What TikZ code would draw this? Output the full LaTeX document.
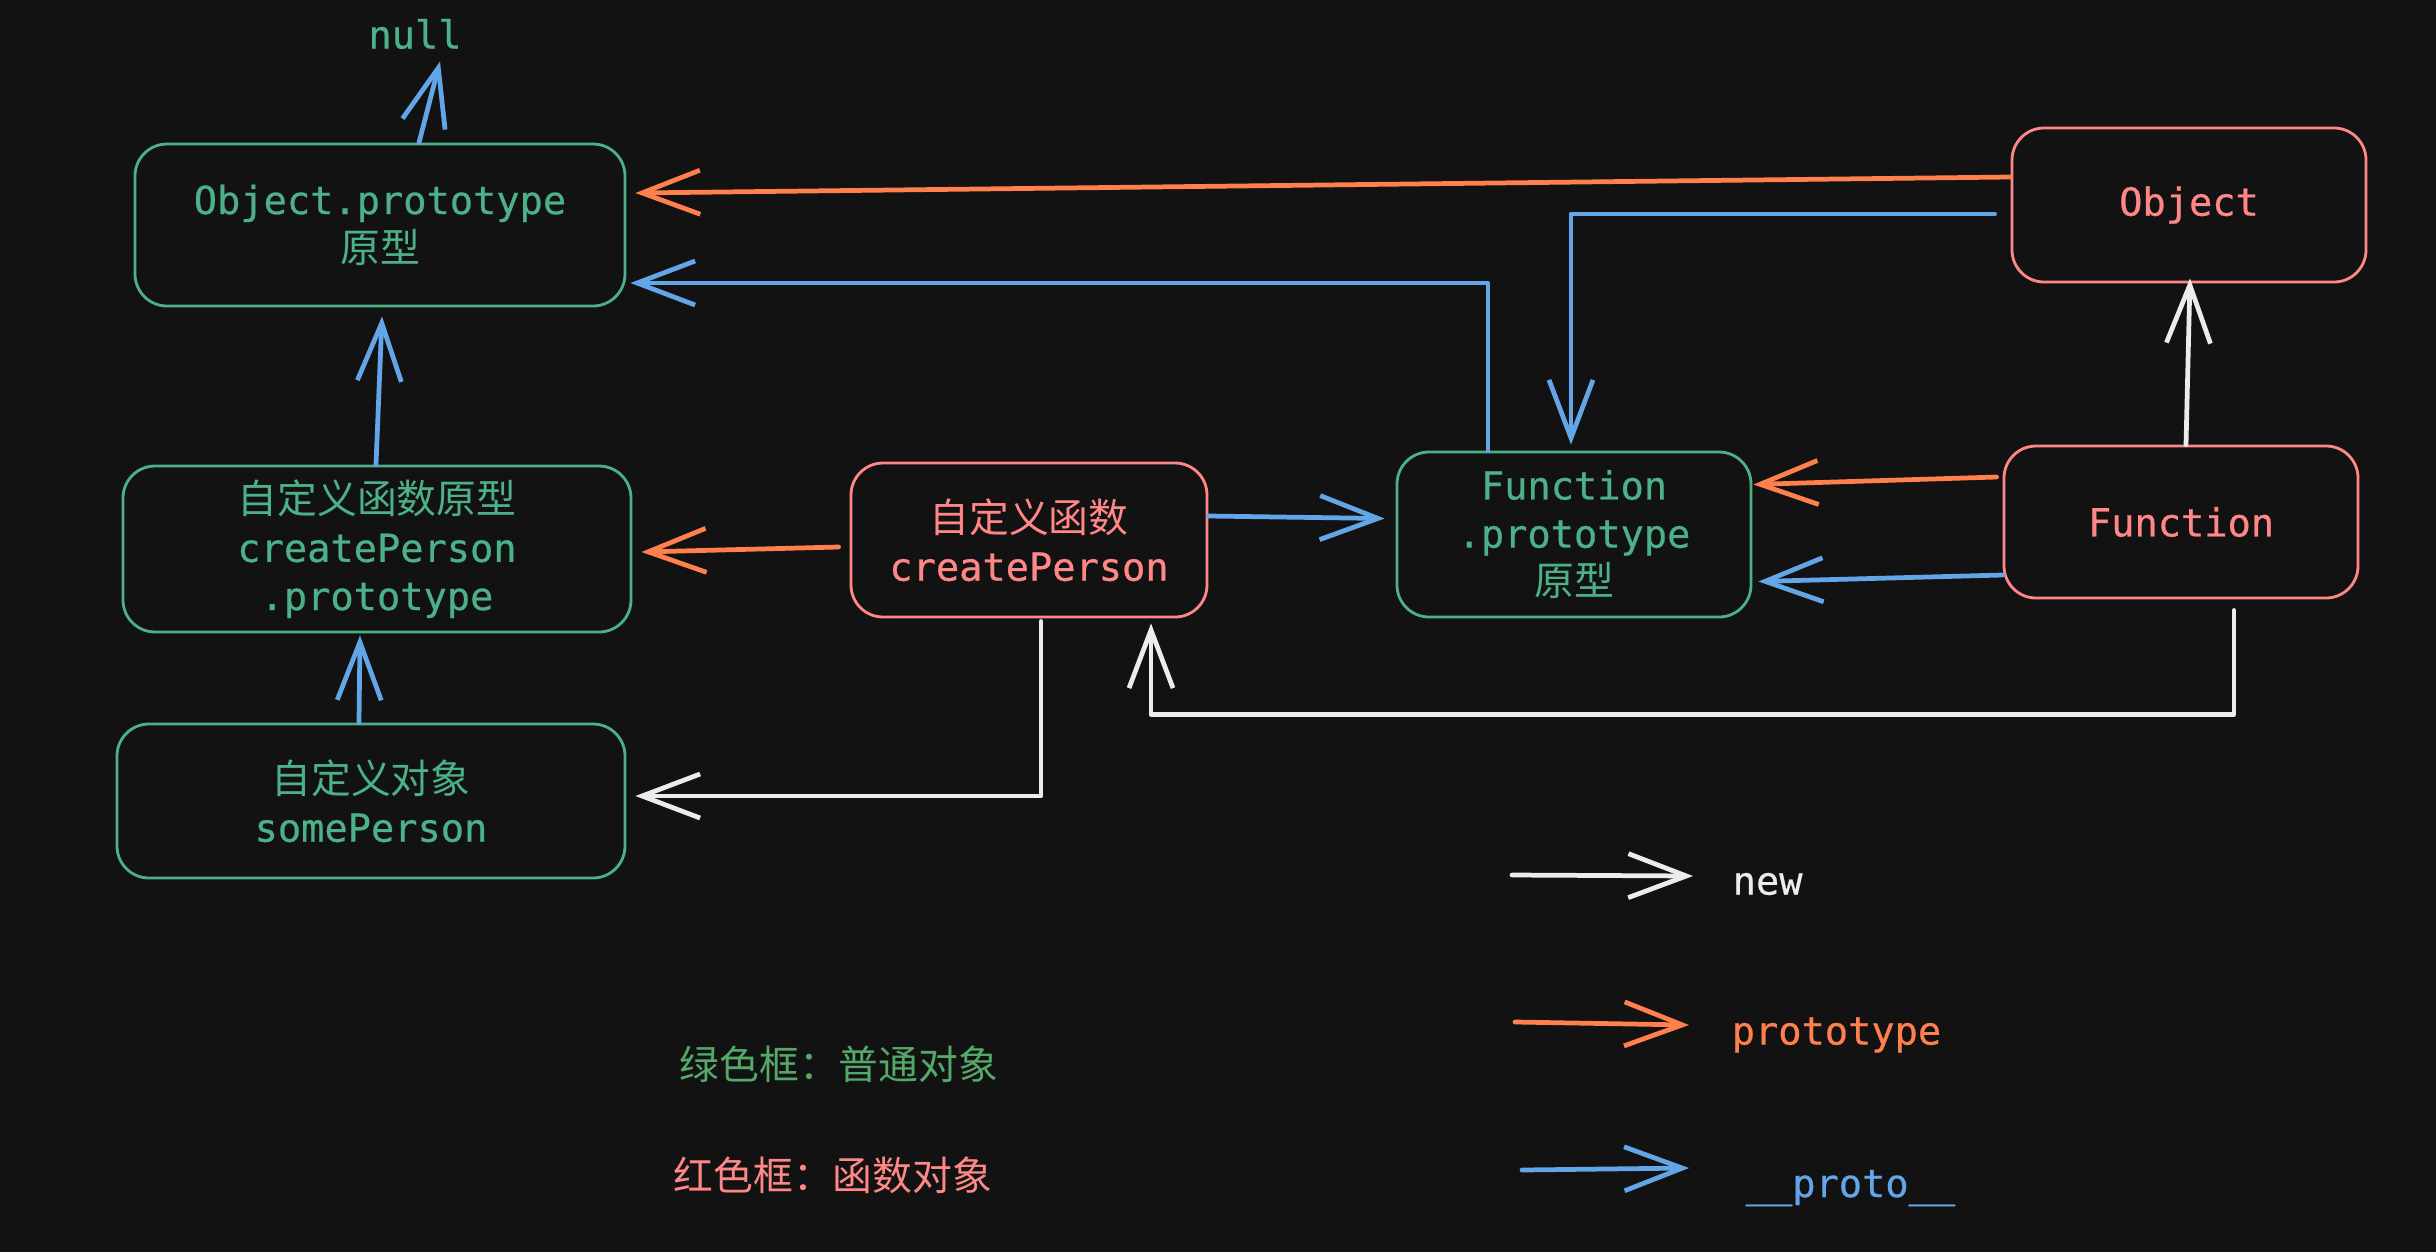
\documentclass[tikz,border=0pt]{standalone}
\usepackage{fontspec}
\setmonofont[FakeBold=0.6]{DejaVu Sans Mono}
\newfontfamily\zhfont[Scale=1.03]{Noto Sans CJK SC}
\usepackage{tikz}
\usetikzlibrary{arrows.meta, positioning, backgrounds}
\definecolor{bgdark}{RGB}{18,18,18}
\definecolor{plaingreen}{RGB}{76,176,136}
\definecolor{funcred}{RGB}{255,135,135}
\definecolor{protoorange}{RGB}{255,128,76}
\definecolor{dunderblue}{RGB}{99,166,232}
\definecolor{newwhite}{RGB}{236,236,236}
\definecolor{legendgreen}{RGB}{84,168,106}
\newcommand\boxfont{\fontsize{11}{13.7}\selectfont\ttfamily}
\tikzset{
  basebox/.style={rectangle,rounded corners=0.32cm,line width=0.8pt,align=center,font=\boxfont},
  objbox/.style={basebox,draw=plaingreen,text=plaingreen},
  fnbox/.style={basebox,draw=funcred,text=funcred},
  keytext/.style={anchor=west,inner sep=0pt,font=\boxfont},
  arr/.style={-{Straight Barb[length=5.8mm,width=4.4mm]},line width=1.35pt,line cap=round,line join=round},
  whitearr/.style={arr,color=newwhite},
  orangearr/.style={arr,color=protoorange},
  bluearr/.style={arr,color=dunderblue}
}
\begin{document}
\begin{tikzpicture}
  \fill[bgdark] (0,0) rectangle (24.36,-12.52);
  \useasboundingbox (0,0) rectangle (24.36,-12.52);

  %% Plain objects (green boxes)
  \node[font=\boxfont,text=plaingreen] (nullnode) at (4.15,-0.34) {null};
  \node[objbox,minimum width=4.9cm,minimum height=1.62cm] (objproto) at (3.80,-2.25)
      {Object.prototype\\{\zhfont 原型}};
  \node[objbox,minimum width=5.08cm,minimum height=1.66cm] (ctorproto) at (3.77,-5.49)
      {{\zhfont 自定义函数原型}\\createPerson\\.prototype};
  \node[objbox,minimum width=5.08cm,minimum height=1.54cm] (someperson) at (3.71,-8.01)
      {{\zhfont 自定义对象}\\somePerson};
  \node[objbox,minimum width=3.54cm,minimum height=1.65cm] (fnproto) at (15.74,-5.345)
      {Function\\.prototype\\{\zhfont 原型}};

  %% Function objects (red boxes)
  \node[fnbox,minimum width=3.56cm,minimum height=1.54cm] (ctor) at (10.29,-5.40)
      {{\zhfont 自定义函数}\\createPerson};
  \node[fnbox,minimum width=3.54cm,minimum height=1.54cm] (objctor) at (21.89,-2.05) {Object};
  \node[fnbox,minimum width=3.54cm,minimum height=1.52cm] (fnctor) at (21.81,-5.22) {Function};

  %% prototype links
  \draw[orangearr] ([xshift=-0.11cm,yshift=-0.07cm]ctor.west) -- ([xshift=0.09cm,yshift=-0.03cm]ctorproto.east);
  \draw[orangearr] ([yshift=0.28cm]objctor.west) -- ([xshift=0.09cm,yshift=0.32cm]objproto.east);
  \draw[orangearr] ([xshift=-0.06cm,yshift=0.45cm]fnctor.west) -- ([xshift=0.01cm,yshift=0.5cm]fnproto.east);

  %% __proto__ links
  \draw[bluearr] ([xshift=0.39cm]objproto.north) -- ([xshift=0.25cm]nullnode.south);
  \draw[bluearr] ([xshift=-0.01cm]ctorproto.north) -- ([xshift=0.02cm,yshift=-0.09cm]objproto.south);
  \draw[bluearr] ([xshift=-0.12cm]someperson.north) -- ([xshift=-0.17cm,yshift=-0.02cm]ctorproto.south);
  \draw[bluearr] ([yshift=0.24cm]ctor.east) -- ([xshift=-0.11cm,yshift=0.16cm]fnproto.west);
  \draw[bluearr] ([xshift=-0.86cm]fnproto.north) |- ([xshift=0.04cm,yshift=-0.58cm]objproto.east);
  \draw[bluearr] ([xshift=-0.16cm,yshift=-0.09cm]objctor.west) -| ([xshift=-0.03cm,yshift=0.06cm]fnproto.north);
  \draw[bluearr] ([yshift=-0.53cm]fnctor.west) -- ([xshift=0.06cm,yshift=-0.47cm]fnproto.east);

  %% new links
  \draw[whitearr] ([xshift=0.12cm,yshift=-0.03cm]ctor.south) |- ([xshift=0.09cm,yshift=0.05cm]someperson.east);
  \draw[whitearr] ([xshift=0.53cm,yshift=-0.11cm]fnctor.south) -- ++(0,-1.04) -| ([xshift=1.22cm,yshift=-0.05cm]ctor.south);
  \draw[whitearr] ([xshift=0.05cm]fnctor.north) -- ([xshift=0.01cm,yshift=0.05cm]objctor.south);

  %% Legend
  \node[keytext,text=newwhite] (keynew) at (17.32,-8.84) {new};
  \node[keytext,text=protoorange] (keyproto) at (17.31,-10.35) {prototype};
  \node[keytext,text=dunderblue] (keydunder) at (17.45,-11.88) {\_\_proto\_\_};
  \coordinate (keynewstart) at (15.12,-8.75);
  \coordinate (keyprotostart) at (15.15,-10.22);
  \coordinate (keydunderstart) at (15.22,-11.70);
  \draw[whitearr] (keynewstart) -- ([xshift=-0.39cm,yshift=0.08cm]keynew.west);
  \draw[orangearr] (keyprotostart) -- ([xshift=-0.42cm,yshift=0.1cm]keyproto.west);
  \draw[bluearr] (keydunderstart) -- ([xshift=-0.56cm,yshift=0.2cm]keydunder.west);

  \node[keytext,font=\boxfont\zhfont,text=legendgreen] (greennote) at (6.79,-10.64) {绿色框：普通对象};
  \node[keytext,font=\boxfont\zhfont,text=funcred] (rednote) at (6.73,-11.75) {红色框：函数对象};
\end{tikzpicture}
\end{document}
